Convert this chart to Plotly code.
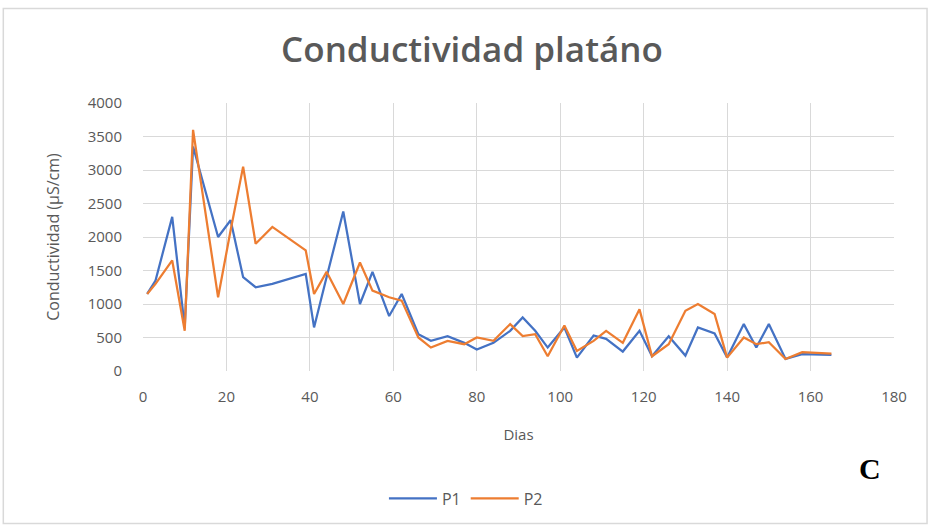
import plotly.graph_objects as go

days = [1, 3, 7, 10, 12, 18, 21, 24, 27, 31, 39, 41, 44, 48, 52, 55, 59, 62, 66, 69,
        73, 77, 80, 84, 88, 91, 94, 97, 101, 104, 108, 111, 115, 119, 122, 126, 130,
        133, 137, 140, 144, 147, 150, 154, 158, 165]

p1 = [1150, 1350, 2300, 650, 3350, 2000, 2250, 1400, 1250, 1300, 1450, 650, 1400, 2380,
      1000, 1480, 820, 1150, 550, 450, 520, 420, 320, 420, 600, 800, 600, 350, 650, 200,
      530, 480, 290, 600, 220, 520, 230, 650, 560, 200, 700, 350, 700, 180, 250, 240]

p2 = [1150, 1300, 1650, 600, 3600, 1100, 2100, 3050, 1900, 2150, 1800, 1150, 1480, 1000,
      1620, 1200, 1100, 1050, 500, 350, 450, 400, 500, 450, 700, 520, 550, 220, 680, 300,
      450, 600, 420, 920, 220, 400, 900, 1000, 850, 200, 500, 400, 430, 180, 280, 260]

series_names = ["P1", "P2"]
colors = ["#4472C4", "#ED7D31"]

fig = go.Figure()
for name, vals, col in zip(series_names, [p1, p2], colors):
    fig.add_trace(go.Scatter(x=days, y=vals, mode="lines", name=name,
                             line=dict(color=col, width=2.25)))

gray = "#595959"
fig.update_layout(
    width=928, height=526,
    margin=dict(l=143, r=34, t=103, b=154),
    paper_bgcolor="white", plot_bgcolor="white",
    font=dict(family="Open Sans", color=gray, size=14),
    title=dict(text="Conductividad platáno", x=472 / 928, xanchor="center",
               y=1 - 50 / 526, yanchor="middle",
               font=dict(family="Open Sans", size=35, color=gray, weight=600)),
    showlegend=True,
    legend=dict(orientation="h", x=0.43, xanchor="center", y=-0.47, yanchor="middle",
                font=dict(size=16, color=gray), itemwidth=48),
    xaxis=dict(range=[0, 180], dtick=20, showgrid=True, gridcolor="#d9d9d9",
               zeroline=False, showline=False, ticks="", ticklabelstandoff=15,
               tickfont=dict(size=15, color=gray),
               title=dict(text="Dias", font=dict(size=15, color=gray), standoff=24)),
    yaxis=dict(range=[0, 4000], dtick=500, showgrid=True, gridcolor="#d9d9d9",
               zeroline=False, showline=False, ticks="", ticklabelstandoff=20,
               tickfont=dict(size=15, color=gray),
               title=dict(text="Conductividad (µS/cm)", font=dict(size=16, color=gray),
                          standoff=24)),
    annotations=[dict(text="<b>C</b>", x=0.968, y=-0.364, xref="paper", yref="paper",
                      xanchor="center", yanchor="middle", showarrow=False,
                      font=dict(family="Liberation Serif", size=30, color="black"))],
    shapes=[dict(type="rect", xref="paper", yref="paper", x0=-0.186, x1=1.044,
                 y0=-0.569, y1=1.353, line=dict(color="#d9d9d9", width=1.5))],
)

fig.write_html("out.html")
